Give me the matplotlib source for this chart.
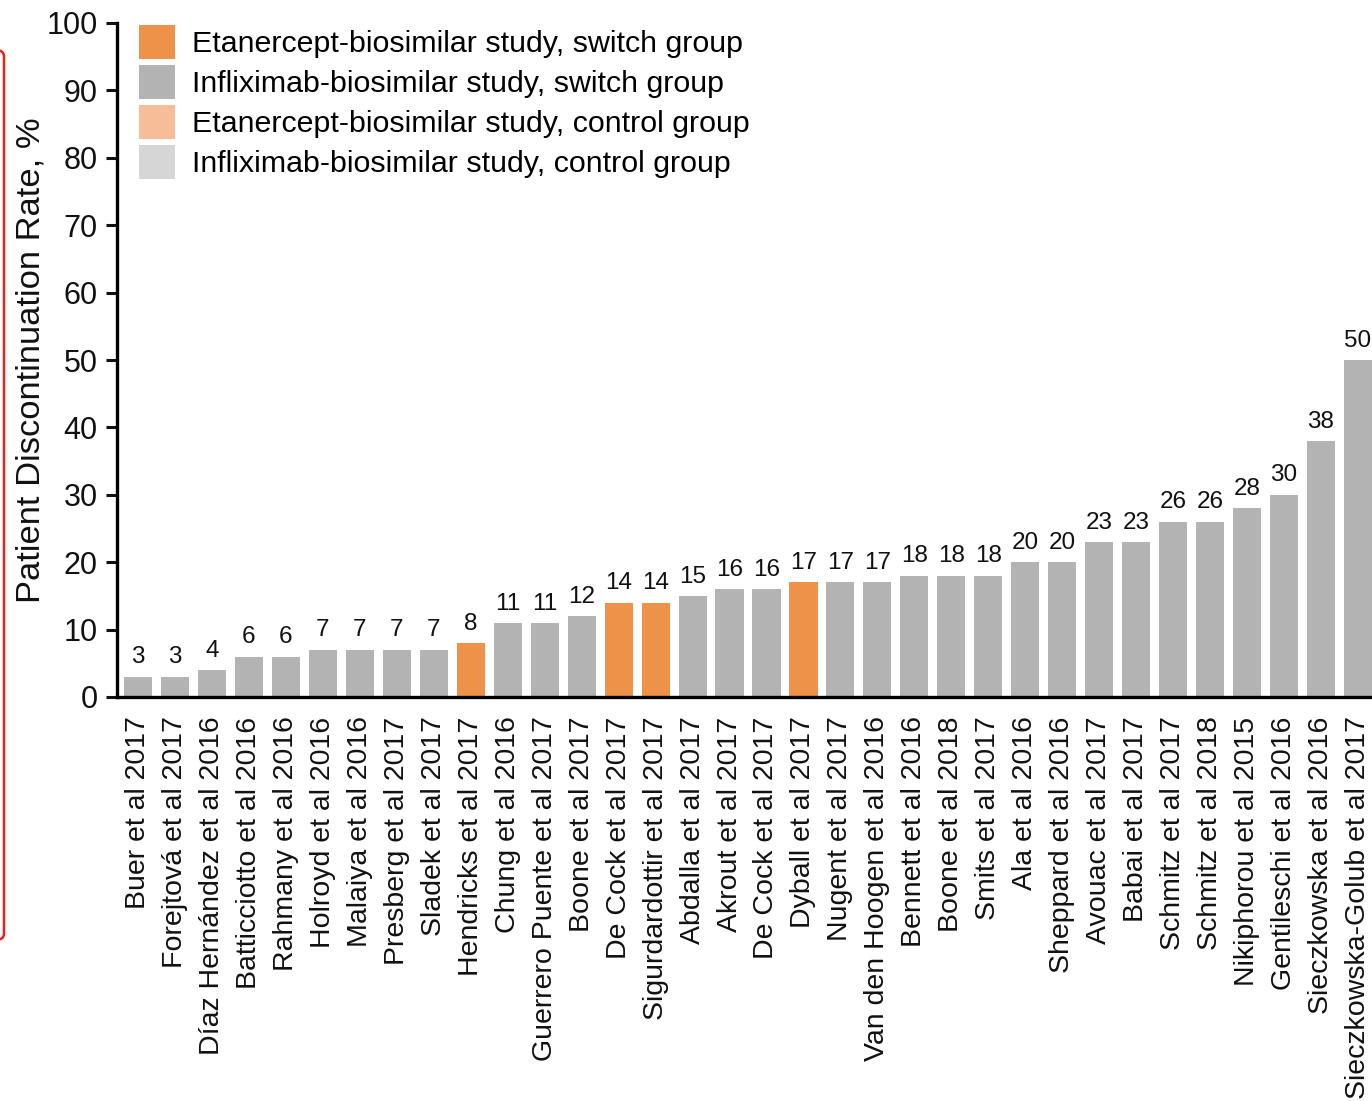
import matplotlib
matplotlib.use("Agg")
import matplotlib.pyplot as plt
from matplotlib.patches import Patch, FancyBboxPatch

plt.rcParams['font.family'] = ['Liberation Sans', 'DejaVu Sans']

studies = [
    "Buer et al 2017", "Forejtová et al 2017", "Díaz Hernández et al 2016",
    "Batticciotto et al 2016", "Rahmany et al 2016", "Holroyd et al 2016",
    "Malaiya et al 2016", "Presberg et al 2017", "Sladek et al 2017",
    "Hendricks et al 2017", "Chung et al 2016", "Guerrero Puente et al 2017",
    "Boone et al 2017", "De Cock et al 2017", "Sigurdardottir et al 2017",
    "Abdalla et al 2017", "Akrout et al 2017", "De Cock et al 2017",
    "Dyball et al 2017", "Nugent et al 2017", "Van den Hoogen et al 2016",
    "Bennett et al 2016", "Boone et al 2018", "Smits et al 2017",
    "Ala et al 2016", "Sheppard et al 2016", "Avouac et al 2017",
    "Babai et al 2017", "Schmitz et al 2017", "Schmitz et al 2018",
    "Nikiphorou et al 2015", "Gentileschi et al 2016", "Sieczkowska et al 2016",
    "Sieczkowska-Golub et al 2017",
]
rates = [3, 3, 4, 6, 6, 7, 7, 7, 7, 8, 11, 11, 12, 14, 14, 15, 16, 16, 17, 17,
         17, 18, 18, 18, 20, 20, 23, 23, 26, 26, 28, 30, 38, 50]
# E = etanercept-biosimilar switch group, I = infliximab-biosimilar switch group
drug = ["I", "I", "I", "I", "I", "I", "I", "I", "I", "E", "I", "I", "I", "E", "E",
        "I", "I", "I", "E", "I", "I", "I", "I", "I", "I", "I", "I", "I", "I", "I",
        "I", "I", "I", "I"]

legend_labels = [
    "Etanercept-biosimilar study, switch group",
    "Infliximab-biosimilar study, switch group",
    "Etanercept-biosimilar study, control group",
    "Infliximab-biosimilar study, control group",
]
legend_colors = ["#EE9149", "#B3B3B3", "#F6BE98", "#D6D6D6"]
bar_colors = {"E": legend_colors[0], "I": legend_colors[1]}

W, H = 1372, 1101
fig = plt.figure(figsize=(W / 100, H / 100), dpi=100)
ax = fig.add_axes([117 / W, 1 - 697 / H, (W - 117) / W, (697 - 23) / H])

x = list(range(len(studies)))
bars = ax.bar(x, rates, width=0.76, color=[bar_colors[d] for d in drug])
for xi, v in zip(x, rates):
    ax.annotate(str(v), (xi, v), xytext=(0, 6), textcoords="offset points",
                ha="center", va="bottom", fontsize=17.5, color="#111111")

ax.set_xlim(-0.57, len(studies) - 0.62)
ax.set_ylim(0, 100)
ax.set_yticks(range(0, 101, 10))
ax.tick_params(axis="y", labelsize=22, length=8, width=2.2, direction="out",
               pad=6, colors="#111111")
ax.set_xticks(x)
ax.set_xticklabels(studies, rotation=90, fontsize=20.5, color="#111111")
ax.tick_params(axis="x", length=0, pad=14)
ax.set_ylabel("Patient Discontinuation Rate, %", fontsize=24.8, color="#111111")
ax.yaxis.set_label_coords((47 - 117) / (W - 117), 0.5)

for s in ("top", "right"):
    ax.spines[s].set_visible(False)
ax.spines["left"].set_linewidth(2.4)
ax.spines["bottom"].set_linewidth(2.4)

handles = [Patch(facecolor=c, edgecolor="none") for c in legend_colors]
ax.legend(handles, legend_labels, loc="upper left",
          bbox_to_anchor=(139 / W, 1 - 25 / H), bbox_transform=fig.transFigure,
          frameon=False, fontsize=21.9, handlelength=1.18, handleheight=1.34,
          handletextpad=0.55, labelspacing=0.2, borderpad=0, borderaxespad=0)

# red frame at the left margin
frame = FancyBboxPatch((-30 / W, 1 - 940 / H), 34 / W, 890 / H,
                       boxstyle="round,pad=0,rounding_size=0.006",
                       transform=fig.transFigure, fill=False,
                       edgecolor="#E8211B", linewidth=1.8, clip_on=False)
fig.patches.append(frame)

fig.savefig("out.png", dpi=100)
